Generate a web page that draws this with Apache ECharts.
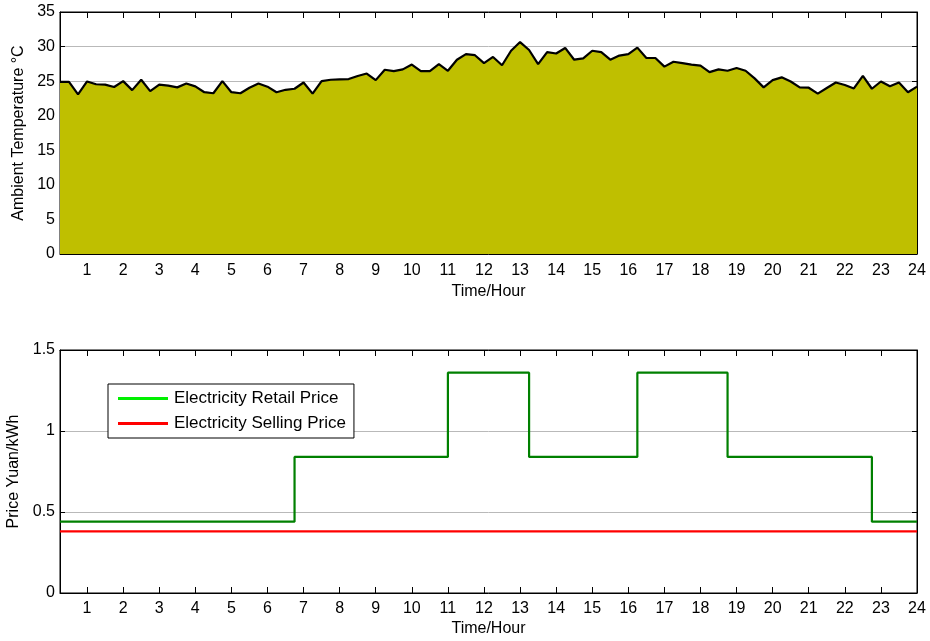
<!DOCTYPE html>
<html>
<head>
<meta charset="utf-8">
<script src="https://cdn.jsdelivr.net/npm/echarts@6/dist/echarts.min.js"></script>
<style>
  html, body { margin: 0; padding: 0; background: #fff; }
  #chart { width: 930px; height: 641px; }
</style>
</head>
<body>
<div id="chart"></div>
<script>
// Hour tick labels shared by both panels
var hourTicks = [1, 2, 3, 4, 5, 6, 7, 8, 9, 10, 11, 12, 13, 14, 15, 16, 17, 18, 19, 20, 21, 22, 23, 24];

// Ambient temperature (°C), one reading every 15 minutes from 00:15 to 24:00
var temperature = [
  24.9, 24.9, 23.1, 24.95, 24.55, 24.5, 24.15, 25.0, 23.7, 25.2, 23.55, 24.5,
  24.35, 24.1, 24.65, 24.25, 23.4, 23.25, 25.0, 23.4, 23.25, 24.05, 24.65, 24.2,
  23.4, 23.75, 23.9, 24.8, 23.2, 25.0, 25.2, 25.25, 25.3, 25.75, 26.1, 25.15,
  26.65, 26.45, 26.7, 27.4, 26.45, 26.45, 27.45, 26.5, 28.1, 28.9, 28.75, 27.6,
  28.5, 27.3, 29.4, 30.65, 29.5, 27.45, 29.2, 29.0, 29.8, 28.1, 28.3, 29.4,
  29.2, 28.1, 28.7, 28.9, 29.85, 28.35, 28.35, 27.1, 27.8, 27.6, 27.4, 27.25,
  26.3, 26.7, 26.5, 26.9, 26.5, 25.4, 24.1, 25.15, 25.55, 24.95, 24.1, 24.05,
  23.2, 24.0, 24.8, 24.45, 23.95, 25.75, 23.9, 24.95, 24.25, 24.8, 23.4, 24.2
];

// Time-of-use tariff: hours where the retail price changes, and the price from each of them
var retailHours = [0.25, 6.75, 11, 13.25, 16.25, 18.75, 22.75, 24];
var retailPrice = [0.44, 0.84, 1.36, 0.84, 1.36, 0.84, 0.44, 0.44];

// Flat feed-in (selling) price
var sellingHours = [0.25, 24];
var sellingPrice = [0.38, 0.38];

var tempTicks = [0, 5, 10, 15, 20, 25, 30, 35];
var priceTicks = [0, 0.5, 1, 1.5];

var FONT = '"Liberation Sans", Arial, Helvetica, sans-serif';
var FS = 16;
var X_MIN = 0.25, X_MAX = 24;

var tempData = temperature.map(function (v, i) { return [(i + 1) * 0.25, v]; });
var retailData = retailHours.map(function (h, i) { return [h, retailPrice[i]]; });
var sellingData = sellingHours.map(function (h, i) { return [h, sellingPrice[i]]; });

// Thin bar used as the legend swatch
var LEGEND_BAR = 'path://M0,0 L50,0 L50,3 L0,3 Z';

function hourAxis(gridIndex, position, withLabels) {
  return {
    type: 'value',
    gridIndex: gridIndex,
    position: position,
    min: X_MIN,
    max: X_MAX,
    name: withLabels ? 'Time/Hour' : '',
    nameLocation: 'middle',
    nameGap: gridIndex === 0 ? 30 : 28,
    nameTextStyle: { color: '#000', fontSize: FS, fontFamily: FONT },
    axisLine: { show: true, onZero: false, lineStyle: { color: '#000', width: 1 } },
    axisTick: { show: true, inside: true, length: 6, customValues: hourTicks, lineStyle: { color: '#000' } },
    axisLabel: withLabels
      ? { show: true, customValues: hourTicks, color: '#000', fontSize: FS, fontFamily: FONT, margin: gridIndex === 0 ? 9 : 8 }
      : { show: false },
    splitLine: { show: false }
  };
}

function valueAxis(gridIndex, position, min, max, interval, ticks, withLabels, name, nameGap) {
  return {
    type: 'value',
    gridIndex: gridIndex,
    position: position,
    min: min,
    max: max,
    interval: interval,
    name: name || '',
    nameLocation: 'middle',
    nameGap: nameGap || 0,
    nameTextStyle: { color: '#000', fontSize: FS, fontFamily: FONT },
    axisLine: { show: true, onZero: false, lineStyle: { color: '#000', width: 1 } },
    axisTick: { show: true, inside: true, length: 5, customValues: ticks, lineStyle: { color: '#000' } },
    axisLabel: withLabels
      ? { show: true, customValues: ticks, color: '#000', fontSize: FS, fontFamily: FONT, margin: 5 }
      : { show: false },
    splitLine: withLabels
      ? { show: true, lineStyle: { color: '#b9b9b9', width: 1 } }
      : { show: false }
  };
}

var chart = echarts.init(document.getElementById('chart'), null, { renderer: 'canvas' });

chart.setOption({
  animation: false,
  backgroundColor: '#fff',
  textStyle: { fontFamily: FONT },
  grid: [
    { left: 60, top: 12, width: 857, height: 242, outerBoundsMode: 'none', containLabel: false,
      show: true, borderColor: '#000', borderWidth: 1, backgroundColor: '#fff' },
    { left: 60, top: 350, width: 857, height: 243, outerBoundsMode: 'none', containLabel: false,
      show: true, borderColor: '#000', borderWidth: 1, backgroundColor: '#fff' }
  ],
  xAxis: [
    hourAxis(0, 'bottom', true),
    hourAxis(0, 'top', false),
    hourAxis(1, 'bottom', true),
    hourAxis(1, 'top', false)
  ],
  yAxis: [
    valueAxis(0, 'left', 0, 35, 5, tempTicks, true, 'Ambient Temperature \u00b0C', 32),
    valueAxis(0, 'right', 0, 35, 5, tempTicks, false),
    valueAxis(1, 'left', 0, 1.5, 0.5, priceTicks, true, 'Price Yuan/kWh', 37),
    valueAxis(1, 'right', 0, 1.5, 0.5, priceTicks, false)
  ],
  legend: {
    left: 108,
    top: 384,
    orient: 'vertical',
    backgroundColor: '#fff',
    borderColor: '#000',
    borderWidth: 1,
    borderRadius: 0,
    padding: [6, 8, 6, 10],
    itemGap: 8,
    itemWidth: 50,
    itemHeight: 16,
    symbolKeepAspect: true,
    textStyle: { color: '#000', fontSize: 17, fontFamily: FONT, padding: [0, 0, 0, 1] },
    data: [
      { name: 'Electricity Retail Price', icon: LEGEND_BAR, itemStyle: { color: '#00f000' } },
      { name: 'Electricity Selling Price', icon: LEGEND_BAR, itemStyle: { color: '#ff0000' } }
    ]
  },
  series: [
    {
      name: 'Ambient Temperature',
      type: 'line',
      xAxisIndex: 0,
      yAxisIndex: 0,
      data: tempData,
      symbol: 'none',
      lineStyle: { color: '#000', width: 2.2 },
      itemStyle: { color: '#000' },
      areaStyle: { color: '#bfbf00', opacity: 1, origin: 'start' },
      z: 3
    },
    {
      name: 'Electricity Retail Price',
      type: 'line',
      xAxisIndex: 2,
      yAxisIndex: 2,
      data: retailData,
      step: 'end',
      symbol: 'none',
      lineStyle: { color: '#008000', width: 2.2 },
      itemStyle: { color: '#008000' },
      z: 3
    },
    {
      name: 'Electricity Selling Price',
      type: 'line',
      xAxisIndex: 2,
      yAxisIndex: 2,
      data: sellingData,
      symbol: 'none',
      lineStyle: { color: '#ff0000', width: 2.2 },
      itemStyle: { color: '#ff0000' },
      z: 3
    }
  ]
});
</script>
</body>
</html>
